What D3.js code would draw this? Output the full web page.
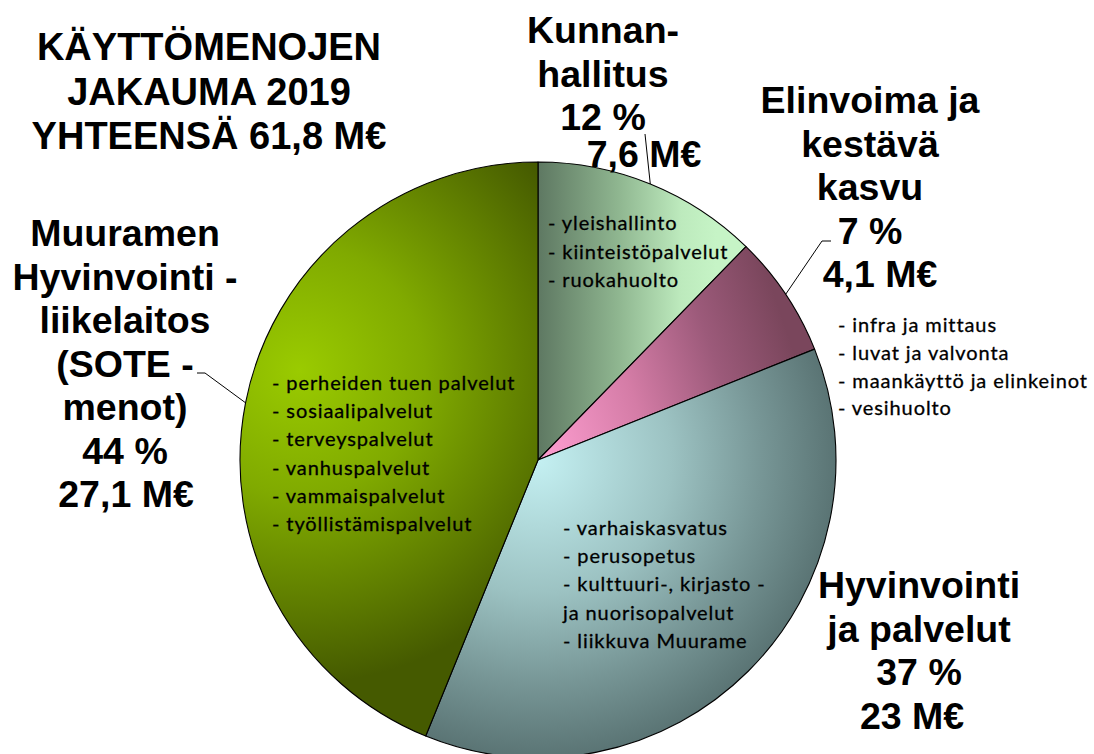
<!DOCTYPE html>
<html>
<head>
<meta charset="utf-8">
<script src="https://cdn.jsdelivr.net/npm/d3@7"></script>
<style>
  html, body { margin: 0; padding: 0; background: #fff; }
  svg { display: block; }
  .big { font-family: "Liberation Sans", Arial, sans-serif; font-weight: bold; font-size: 37.5px; fill: #000; }
  .list { font-family: Lato, "Open Sans", sans-serif; font-size: 20px; letter-spacing: 0.9px; fill: #000; stroke: #000; stroke-width: 0.3px; }
</style>
</head>
<body>
<svg id="chart" width="1094" height="754"></svg>
<script>
// Käyttömenojen jakauma 2019 — piirakka, viipaleet myötäpäivään klo 12:sta alkaen.

const titleLines = ["KÄYTTÖMENOJEN", "JAKAUMA 2019", "YHTEENSÄ 61,8 M€"];

const categories = ["kunnanhallitus", "elinvoima", "hyvinvointi", "sote"];
const valuesMEUR = [7.6, 4.1, 23, 27.1];

const nameLines = [
  ["Kunnan-", "hallitus"],
  ["Elinvoima ja", "kestävä", "kasvu"],
  ["Hyvinvointi", "ja palvelut"],
  ["Muuramen", "Hyvinvointi -", "liikelaitos", "(SOTE -", "menot)"],
];

const serviceLists = [
  ["- yleishallinto", "- kiinteistöpalvelut", "- ruokahuolto"],
  ["- infra ja mittaus", "- luvat ja valvonta", "- maankäyttö ja elinkeinot", "- vesihuolto"],
  ["- varhaiskasvatus", "- perusopetus", "- kulttuuri-, kirjasto -", "ja nuorisopalvelut", "- liikkuva Muurame"],
  ["- perheiden tuen palvelut", "- sosiaalipalvelut", "- terveyspalvelut", "- vanhuspalvelut", "- vammaispalvelut", "- työllistämispalvelut"],
];

// sijoittelu (ei dataa): otsikot, selitteet ja johtoviivojen taitekohdat
const cx = 538, cy = 460, R = 298;
const labelPos = [
  { x: 603, y: 43, step: 43.5, lastDx: 41, lastDy: -6.5, leader: [[645, 134]] },
  { x: 870, y: 113, step: 43.5, lastDx: 10, lastDy: 0, leader: [[822, 241], [831, 241]] },
  { x: 919, y: 598, step: 43.5, lastDx: -7, lastDy: 0, leader: null },
  { x: 125, y: 246, step: 43.5, lastDx: 1, lastDy: 0, leader: [[205, 373], [197, 373]] },
];
const listPos = [
  { x: 548, y: 230, step: 28.5 },
  { x: 838, y: 332, step: 27.8 },
  { x: 563, y: 535, step: 28.2 },
  { x: 272, y: 390, step: 28.2 },
];

const total = d3.sum(valuesMEUR);
const pctLabel = (v) => `${Math.round((v / total) * 100)} %`;
const eurLabel = (v) => `${String(v).replace(".", ",")} M€`;

const svg = d3.select("#chart");
const defs = svg.append("defs");

// liukuvärit viipaleittain — koordinaatit piirakan keskipisteen suhteen
const gK = defs.append("linearGradient").attr("id", "g-kunnanhallitus")
  .attr("gradientUnits", "userSpaceOnUse")
  .attr("x1", 0).attr("y1", 0).attr("x2", R * 0.6).attr("y2", 0);
[[0, "#5e7862"], [0.45, "#8fb690"], [0.8, "#bdeabd"], [1, "#c6f4c6"]]
  .forEach(([o, c]) => gK.append("stop").attr("offset", o).attr("stop-color", c));

const gE = defs.append("linearGradient").attr("id", "g-elinvoima")
  .attr("gradientUnits", "userSpaceOnUse")
  .attr("x1", 0).attr("y1", 0).attr("x2", R * 0.88).attr("y2", -R * 0.3);
[[0, "#ff9fd2"], [0.4, "#d47ca6"], [0.72, "#9c5a7a"], [1, "#7a465c"]]
  .forEach(([o, c]) => gE.append("stop").attr("offset", o).attr("stop-color", c));

const gH = defs.append("radialGradient").attr("id", "g-hyvinvointi")
  .attr("gradientUnits", "userSpaceOnUse")
  .attr("cx", 0).attr("cy", 0).attr("r", R).attr("fx", 0).attr("fy", 0);
[[0, "#c4f0f2"], [0.45, "#9cc2c2"], [0.75, "#779696"], [1, "#5a7474"]]
  .forEach(([o, c]) => gH.append("stop").attr("offset", o).attr("stop-color", c));

const gS = defs.append("radialGradient").attr("id", "g-sote")
  .attr("gradientUnits", "userSpaceOnUse")
  .attr("cx", -R * 0.8).attr("cy", -R * 0.3).attr("r", R * 1.05)
  .attr("fx", -R * 0.8).attr("fy", -R * 0.3);
[[0, "#9acb00"], [0.4, "#80aa00"], [0.75, "#5e7c00"], [1, "#455a00"]]
  .forEach(([o, c]) => gS.append("stop").attr("offset", o).attr("stop-color", c));

const pie = d3.pie().sort(null).value((d) => d)(valuesMEUR);
const arc = d3.arc().innerRadius(0).outerRadius(R);

const g = svg.append("g").attr("transform", `translate(${cx},${cy})`);
g.selectAll("path.slice").data(pie).join("path")
  .attr("class", "slice")
  .attr("d", arc)
  .attr("fill", (d, i) => `url(#g-${categories[i]})`)
  .attr("stroke", "#000").attr("stroke-width", 1.1).attr("stroke-linejoin", "round");

// johtoviivat viipaleen keskikulmasta selitteeseen
pie.forEach((d, i) => {
  const lp = labelPos[i];
  if (!lp.leader) return;
  const a = (d.startAngle + d.endAngle) / 2;
  const pts = [[cx + R * Math.sin(a), cy - R * Math.cos(a)], ...lp.leader];
  svg.append("path")
    .attr("d", d3.line()(pts))
    .attr("fill", "none").attr("stroke", "#000").attr("stroke-width", 1);
});

// palvelulistat
serviceLists.forEach((list, i) => {
  const p = listPos[i];
  svg.append("g").selectAll("text").data(list).join("text")
    .attr("class", "list")
    .attr("x", p.x).attr("y", (t, j) => p.y + j * p.step)
    .text((t) => t);
});

// viipaleiden nimet, prosentit ja eurot
valuesMEUR.forEach((v, i) => {
  const lp = labelPos[i];
  const lines = [...nameLines[i], pctLabel(v), eurLabel(v)];
  svg.append("g").selectAll("text").data(lines).join("text")
    .attr("class", "big")
    .attr("text-anchor", "middle")
    .attr("x", (t, j) => lp.x + (j === lines.length - 1 ? lp.lastDx : 0))
    .attr("y", (t, j) => lp.y + j * lp.step + (j === lines.length - 1 ? lp.lastDy : 0))
    .text((t) => t);
});

// otsikko
svg.append("g").selectAll("text").data(titleLines).join("text")
  .attr("class", "big")
  .style("font-size", "38px")
  .attr("text-anchor", "middle")
  .attr("x", 209)
  .attr("y", (t, j) => 60 + j * 44.5)
  .text((t) => t);
</script>
</body>
</html>
